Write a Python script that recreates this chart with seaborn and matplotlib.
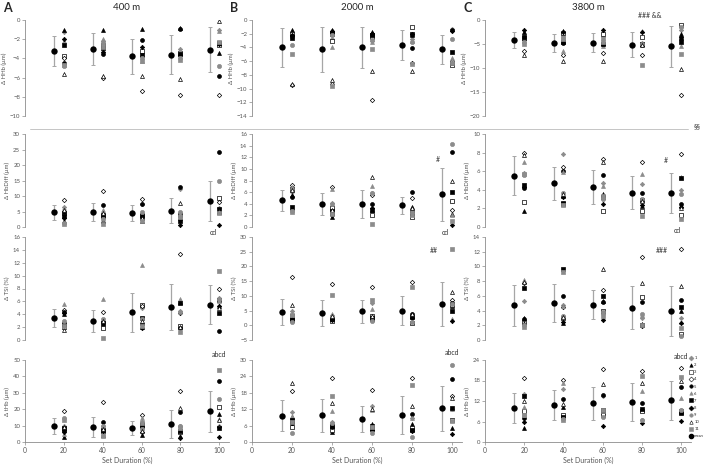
import numpy as np
import pandas as pd
import seaborn as sns
import matplotlib.pyplot as plt
from matplotlib.lines import Line2D

sns.set_style("white")
plt.rcParams['font.family'] = ['Lato', 'DejaVu Sans']

# ---- data ----
durations = [20, 40, 60, 80, 100]
mean_pos = [15, 35, 55, 75, 95]
subjects = [str(i) for i in range(1, 12)]

# rows = set duration 20..100 %, columns = subjects 1..11
hhb_400 = [
    [-1.3, -1.0, -3.7, -4.0, -4.5, -2.2, -2.6, -2.0, -4.8, -5.6, -4.7],
    [-2.2, -1.0, -2.6, -6.0, -3.5, -2.0, -2.9, -3.3, -2.4, -5.8, -2.8],
    [-3.8, -0.9, -3.2, -7.4, -2.1, -4.3, -3.6, -2.8, -4.0, -5.8, -4.3],
    [-3.0, -0.8, -3.4, -7.8, -0.9, -3.2, -3.5, -3.6, -4.0, -6.1, -4.2],
    [-1.0, -3.4, -2.6, -7.8, -5.8, -1.1, -2.4, -2.5, -4.8, -0.1, -2.3],
]
hbdiff_400 = [
    [6.5, 2.0, 4.5, 8.7, 5.0, 6.0, 3.5, 3.0, 1.2, 5.5, 1.0],
    [3.0, 2.0, 3.5, 11.7, 7.0, 5.5, 3.8, 1.5, 2.5, 4.5, 1.0],
    [7.5, 2.0, 4.0, 9.0, 7.3, 4.5, 3.5, 2.5, 5.0, 3.0, 1.8],
    [12.3, 3.0, 4.0, 4.5, 12.8, 3.5, 2.0, 0.8, 5.0, 7.8, 3.2],
    [6.0, 5.0, 9.4, 8.0, 24.2, 5.5, 5.8, 0.8, 15.0, 5.3, 4.6],
]
tsi_400 = [
    [2.8, 4.0, 2.0, 4.6, 4.3, 5.6, 2.5, 4.2, 3.0, 1.6, 2.2],
    [2.6, 2.5, 1.8, 4.4, 2.8, 6.3, 2.6, 2.8, 3.3, 3.0, 0.3],
    [5.0, 2.0, 5.5, 5.3, 2.5, 11.7, 3.4, 1.8, 3.3, 3.0, 2.2],
    [4.5, 5.9, 2.2, 13.4, 1.8, 6.3, 5.8, 4.2, 4.4, 2.0, 1.3],
    [6.5, 5.3, 6.2, 8.0, 1.4, 6.0, 4.2, 5.3, 6.4, 5.0, 10.7],
]
thb_400 = [
    [10.0, 3.0, 8.0, 18.7, 7.5, 5.0, 8.5, 6.0, 14.5, 9.0, 13.5],
    [9.5, 4.0, 7.0, 24.4, 12.5, 5.5, 7.5, 6.5, 10.0, 8.0, 3.5],
    [12.0, 4.0, 9.5, 16.7, 11.0, 14.8, 10.5, 6.0, 8.0, 6.5, 11.5],
    [9.5, 3.5, 6.0, 30.8, 18.5, 8.0, 7.0, 2.5, 10.0, 20.7, 8.5],
    [10.0, 17.3, 21.3, 9.0, 37.5, 14.0, 8.5, 3.0, 26.2, 13.5, 44.0],
]
hhb_2000 = [
    [-1.8, -1.4, -2.0, -9.5, -2.4, -2.3, -2.6, -2.2, -3.7, -9.3, -5.0],
    [-2.8, -1.4, -3.1, -9.4, -1.8, -4.0, -2.0, -1.6, -2.2, -8.8, -9.6],
    [-3.0, -1.8, -2.5, -11.6, -2.0, -3.2, -2.2, -2.1, -2.9, -7.5, -4.2],
    [-2.8, -2.2, -1.0, -6.2, -4.1, -3.0, -2.0, -2.1, -3.2, -7.5, -6.4],
    [-1.3, -5.8, -6.5, -6.0, -1.5, -5.5, -4.6, -1.6, -2.8, -6.2, -6.3],
]
hbdiff_2000 = [
    [6.0, 5.5, 6.5, 7.3, 5.2, 6.8, 3.4, 3.0, 2.8, 6.3, 2.6],
    [4.2, 1.7, 3.3, 6.9, 2.2, 6.5, 2.8, 2.0, 4.0, 3.0, 2.2],
    [5.8, 3.0, 2.0, 5.5, 4.0, 7.1, 2.9, 3.2, 5.9, 8.6, 0.5],
    [3.0, 3.5, 1.7, 5.0, 6.0, 2.8, 2.4, 2.2, 2.6, 3.2, 2.0],
    [4.5, 2.3, 4.4, 3.0, 12.9, 2.0, 6.0, 0.3, 14.3, 8.0, 1.0],
]
tsi_2000 = [
    [4.8, 2.5, 3.0, 16.4, 2.0, 4.0, 1.8, 1.5, 1.0, 7.0, 3.5],
    [2.0, 2.5, 1.5, 14.1, 2.3, 4.0, 2.2, 1.8, 3.0, 3.2, 10.3],
    [7.7, 2.0, 3.3, 12.9, 2.4, 5.7, 2.5, 1.8, 1.5, 3.0, 8.5],
    [1.0, 3.5, 0.8, 14.8, 4.0, 3.0, 2.8, 2.5, 1.0, 3.8, 12.9],
    [7.0, 6.5, 6.8, 8.7, 7.6, 2.0, 5.0, 1.5, 7.2, 11.3, 26.0],
]
thb_2000 = [
    [11.0, 9.0, 5.5, 18.7, 6.8, 9.5, 8.0, 7.0, 3.2, 21.7, 7.5],
    [7.5, 3.5, 4.5, 23.5, 5.5, 11.5, 6.0, 6.5, 7.0, 14.2, 16.8],
    [13.0, 6.7, 5.0, 19.0, 4.5, 11.8, 6.0, 4.3, 3.2, 12.0, 5.5],
    [8.7, 6.7, 5.0, 23.3, 10.4, 8.7, 4.5, 4.0, 2.0, 13.3, 21.0],
    [12.0, 5.3, 8.0, 17.0, 23.0, 12.0, 12.3, 2.8, 28.3, 16.0, 7.8],
]
hhb_3800 = [
    [-3.0, -2.5, -3.8, -6.5, -4.0, -3.5, -3.6, -2.0, -4.5, -7.3, -5.0],
    [-3.3, -2.3, -2.8, -7.3, -4.8, -6.5, -4.5, -2.4, -3.8, -8.5, -4.0],
    [-3.5, -4.8, -3.0, -6.9, -5.0, -5.5, -5.1, -2.0, -4.0, -8.5, -4.5],
    [-4.8, -5.0, -3.5, -7.2, -5.2, -2.2, -5.0, -2.5, -4.9, -5.3, -9.3],
    [-2.0, -3.0, -1.1, -15.7, -4.0, -5.5, -4.5, -3.5, -1.5, -10.3, -7.0],
]
hbdiff_3800 = [
    [5.8, 1.7, 2.7, 8.0, 4.2, 7.0, 4.5, 4.3, 5.6, 7.7, 5.7],
    [7.8, 3.3, 2.5, 6.4, 6.0, 5.9, 2.6, 3.2, 3.7, 3.5, 2.4],
    [4.7, 3.5, 1.7, 7.3, 5.6, 4.4, 3.2, 2.5, 3.0, 7.0, 3.3],
    [4.6, 2.3, 1.7, 7.0, 3.7, 5.7, 2.9, 2.4, 3.0, 2.8, 1.2],
    [4.0, 2.3, 1.3, 7.8, 2.5, 5.4, 5.3, 2.1, 3.5, 2.0, 0.9],
]
tsi_3800 = [
    [5.3, 3.0, 2.5, 7.8, 2.8, 8.1, 7.1, 2.2, 2.0, 7.9, 1.7],
    [4.8, 2.3, 3.0, 4.5, 6.0, 4.6, 9.6, 2.4, 3.3, 3.1, 9.3],
    [3.5, 5.3, 4.0, 6.8, 5.2, 3.0, 6.0, 2.7, 3.8, 9.6, 3.2],
    [3.0, 2.2, 5.9, 11.3, 5.1, 3.4, 2.0, 1.9, 3.5, 7.8, 2.1],
    [3.0, 4.0, 0.8, 12.4, 5.4, 2.5, 4.5, 2.3, 0.5, 7.4, 1.6],
]
thb_3800 = [
    [14.0, 4.0, 9.0, 18.8, 6.9, 10.2, 13.5, 5.8, 7.8, 12.0, 8.0],
    [15.5, 10.3, 8.0, 18.2, 12.5, 17.2, 7.3, 7.0, 6.8, 11.0, 6.5],
    [13.5, 8.8, 8.0, 21.5, 13.7, 9.0, 9.3, 4.7, 7.2, 17.0, 9.5],
    [6.5, 9.5, 9.2, 20.8, 11.3, 14.8, 9.8, 5.5, 6.3, 17.3, 19.2],
    [9.5, 8.8, 9.0, 21.8, 16.0, 12.8, 8.5, 6.2, 9.3, 18.0, 19.0],
]

# group means and SD
mean_hhb_400 = [-3.2, -3.0, -3.8, -3.6, -3.1]
sd_hhb_400 = [1.55, 1.65, 1.8, 2.0, 2.35]
mean_hbdiff_400 = [4.8, 4.8, 4.5, 5.2, 8.4]
sd_hbdiff_400 = [2.4, 3.0, 2.5, 4.0, 6.4]
mean_tsi_400 = [3.4, 3.0, 4.3, 5.1, 5.5]
sd_tsi_400 = [1.4, 1.7, 3.0, 3.6, 3.0]
mean_thb_400 = [9.7, 9.2, 8.6, 11.2, 18.8]
sd_thb_400 = [4.7, 6.2, 4.3, 8.6, 12.6]

mean_hhb_2000 = [-4.0, -4.3, -4.0, -3.6, -4.3]
sd_hhb_2000 = [2.85, 3.35, 3.05, 2.2, 2.1]
mean_hbdiff_2000 = [4.6, 4.0, 4.0, 3.7, 5.6]
sd_hbdiff_2000 = [1.8, 1.9, 2.45, 1.5, 4.6]
mean_tsi_2000 = [4.5, 4.3, 4.8, 5.0, 7.3]
sd_tsi_2000 = [4.5, 4.4, 3.9, 4.8, 7.45]
mean_thb_2000 = [9.6, 9.7, 8.5, 9.9, 12.4]
sd_thb_2000 = [5.7, 6.05, 4.7, 7.0, 8.2]

mean_hhb_3800 = [-4.2, -4.8, -4.7, -5.2, -5.5]
sd_hhb_3800 = [1.7, 1.9, 1.9, 2.6, 4.25]
mean_hbdiff_3800 = [5.5, 4.7, 4.3, 3.7, 3.7]
sd_hbdiff_3800 = [2.1, 1.8, 1.85, 1.8, 2.15]
mean_tsi_3800 = [4.7, 5.0, 4.8, 4.4, 4.0]
sd_tsi_3800 = [2.75, 2.55, 2.0, 2.95, 3.4]
mean_thb_3800 = [10.0, 10.9, 11.3, 11.7, 12.2]
sd_thb_3800 = [4.4, 4.4, 4.8, 5.45, 5.75]

altitudes = ['400 m', '2000 m', '3800 m']
panel_letters = ['A', 'B', 'C']
ylabels = ['Δ HHb (µm)', 'Δ HbDiff (µm)', 'Δ TSI (%)', 'Δ tHb (µm)']

# subject marker styles
subj_markers = ['D', '^', 's', 'D', 'o', '^', 's', 'D', 'o', '^', 's']
subj_face = ['#8c8c8c', 'black', 'white', 'white', 'black', '#8c8c8c',
             'black', 'black', '#8c8c8c', 'white', '#8c8c8c']
subj_edge = ['#8c8c8c', 'black', 'black', 'black', 'black', '#8c8c8c',
             'black', 'black', '#8c8c8c', 'black', '#8c8c8c']
subj_size = [5, 8, 9, 5, 8, 8, 9, 5, 9, 8, 9]

panels = [
    [(hhb_400, mean_hhb_400, sd_hhb_400, (-10, 0, 2)),
     (hhb_2000, mean_hhb_2000, sd_hhb_2000, (-14, 0, 2)),
     (hhb_3800, mean_hhb_3800, sd_hhb_3800, (-20, 0, 5))],
    [(hbdiff_400, mean_hbdiff_400, sd_hbdiff_400, (0, 30, 5)),
     (hbdiff_2000, mean_hbdiff_2000, sd_hbdiff_2000, (0, 16, 2)),
     (hbdiff_3800, mean_hbdiff_3800, sd_hbdiff_3800, (0, 10, 2))],
    [(tsi_400, mean_tsi_400, sd_tsi_400, (0, 16, 2)),
     (tsi_2000, mean_tsi_2000, sd_tsi_2000, (-5, 30, 5)),
     (tsi_3800, mean_tsi_3800, sd_tsi_3800, (0, 14, 2))],
    [(thb_400, mean_thb_400, sd_thb_400, (0, 50, 10)),
     (thb_2000, mean_thb_2000, sd_thb_2000, (0, 30, 6)),
     (thb_3800, mean_thb_3800, sd_thb_3800, (0, 24, 6))],
]

# significance labels: (row, col, x, y, text)
notes = [
    (1, 0, 97, -1.8, 'cd'),
    (2, 0, 100, -2.3, 'abcd'),
    (0, 2, 84, 1.0, '### &&'),
    (1, 1, 93, 11.6, '#'),
    (1, 1, 96.5, -1.0, 'cd'),
    (2, 1, 91, 25.5, '##'),
    (2, 1, 100, -9.3, 'abcd'),
    (1, 2, 92, 7.2, '#'),
    (1, 2, 98, -0.4, 'cd'),
    (2, 2, 90, 12.2, '###'),
    (2, 2, 100, -2.3, 'abcd'),
]

W, H = 708, 468
col_px = [(25, 204), (252, 210), (485, 206)]
row_px = [(20, 116), (134, 227), (237, 340), (360, 442)]
grey = '#8c8c8c'

fig = plt.figure(figsize=(W / 100, H / 100), dpi=100)
axes = {}
for r, (top, bot) in enumerate(row_px):
    for c, (left, width) in enumerate(col_px):
        ax = fig.add_axes([left / W, 1 - bot / H, width / W, (bot - top) / H])
        ax.patch.set_visible(False)
        axes[(r, c)] = ax
        vals, means, sds, (lo, hi, step) = panels[r][c]

        long = pd.DataFrame(vals, columns=subjects)
        long['duration'] = durations
        long = long.melt(id_vars='duration', var_name='subject', value_name='value')

        ax.errorbar(mean_pos, means, yerr=sds, fmt='none', ecolor='#a6a6a6',
                    elinewidth=0.9, capsize=1.5, capthick=0.7, zorder=1)
        sns.scatterplot(x=mean_pos, y=means, ax=ax, color='black', s=21,
                        linewidth=0, zorder=3)
        for i, sub in enumerate(subjects):
            d = long[long['subject'] == sub]
            sns.scatterplot(data=d, x='duration', y='value', ax=ax,
                            marker=subj_markers[i], color=subj_face[i],
                            edgecolor=subj_edge[i], linewidth=0.5,
                            s=subj_size[i], zorder=4)

        ax.set_xlim(0, 105)
        ax.set_ylim(lo, hi)
        ax.set_yticks(np.arange(lo, hi + step / 2, step))
        ax.tick_params(axis='y', labelsize=4.3, labelcolor='#555555', length=2,
                       width=0.5, color=grey, left=True, pad=1.5)
        ax.set_ylabel(ylabels[r], fontsize=4.3, color='#555555', labelpad=2)
        for s in ['top', 'right']:
            ax.spines[s].set_visible(False)
        ax.spines['left'].set_color(grey)
        ax.spines['left'].set_linewidth(0.6)
        if r == 3:
            ax.set_xticks([0, 20, 40, 60, 80, 100])
            ax.tick_params(axis='x', labelsize=4.8, labelcolor='#555555',
                           length=2, width=0.5, color=grey, bottom=True, pad=1.5)
            ax.spines['bottom'].set_color(grey)
            ax.spines['bottom'].set_linewidth(0.6)
            ax.set_xlabel('Set Duration (%)', fontsize=5, color='#555555', labelpad=2)
        else:
            ax.set_xticks([])
            ax.spines['bottom'].set_visible(False)
            ax.set_xlabel('')
        if r == 0:
            ax.set_title(altitudes[c], fontsize=7, pad=7)

for r, c, x, y, t in notes:
    axes[(r, c)].text(x, y, t, fontsize=5, ha='center', va='center',
                      color='#333333', clip_on=False, zorder=10)

for c, (left, width) in enumerate(col_px):
    fig.text((left - 22) / W if c else 3 / W, 1 - 8 / H, panel_letters[c],
             fontsize=9, fontweight='bold', va='center')

fig.text(697 / W, 1 - 127 / H, '§§', fontsize=5, ha='center', va='center', color='#333333')
fig.add_artist(Line2D([30 / W, 688 / W], [1 - 129 / H, 1 - 129 / H],
                      color='#bbbbbb', lw=0.6))

handles = [Line2D([], [], ls='none', marker=subj_markers[i], markerfacecolor=subj_face[i],
                  markeredgecolor=subj_edge[i], markeredgewidth=0.4, markersize=2.5)
           for i in range(11)]
handles.append(Line2D([], [], ls='none', marker='o', color='black', markersize=3))
fig.legend(handles, subjects + ['mean'], loc='upper left',
           bbox_to_anchor=(688 / W, 1 - 354 / H), fontsize=3, frameon=False,
           handlelength=0.6, handletextpad=0.4, labelspacing=0.75, borderpad=0)

fig.savefig('out.png', dpi=100)
